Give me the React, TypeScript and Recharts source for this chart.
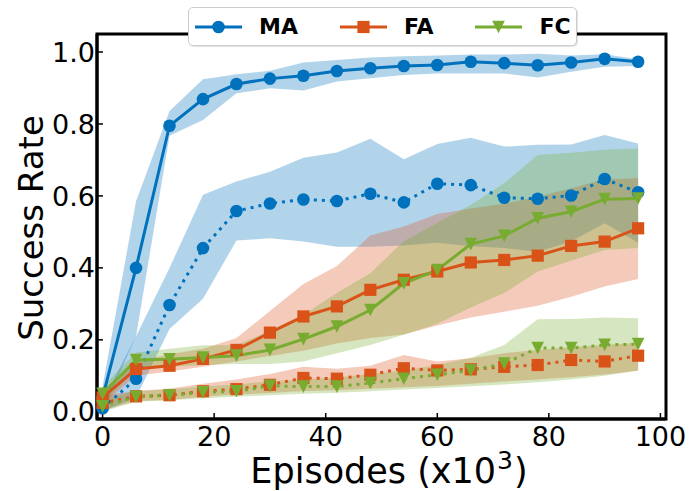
import React from 'react';
import { ComposedChart, Line, Area, XAxis, YAxis, ReferenceArea, Legend } from 'recharts';

// Training progress (x10^3 episodes) and success rates per method
const episodes = [0, 6, 12, 18, 24, 30, 36, 42, 48, 54, 60, 66, 72, 78, 84, 90, 96];

const maSolid = [0.04, 0.4, 0.795, 0.869, 0.911, 0.926, 0.934, 0.947, 0.955, 0.961, 0.964, 0.973, 0.969, 0.963, 0.971, 0.981, 0.973];
const maSolidLo = [0.0, 0.21, 0.767, 0.811, 0.885, 0.899, 0.893, 0.918, 0.927, 0.936, 0.94, 0.94, 0.94, 0.929, 0.945, 0.959, 0.961];
const maSolidHi = [0.07, 0.585, 0.836, 0.924, 0.938, 0.948, 0.971, 0.978, 0.985, 0.988, 0.99, 0.993, 0.993, 0.995, 0.99, 0.994, 0.98];

const maDotted = [0.01, 0.092, 0.297, 0.455, 0.558, 0.579, 0.59, 0.586, 0.606, 0.582, 0.634, 0.63, 0.595, 0.592, 0.601, 0.647, 0.61];
const maDottedLo = [0.0, 0.04, 0.23, 0.314, 0.476, 0.482, 0.473, 0.459, 0.459, 0.462, 0.47, 0.46, 0.455, 0.445, 0.473, 0.524, 0.47];
const maDottedHi = [0.03, 0.21, 0.4, 0.603, 0.64, 0.667, 0.706, 0.721, 0.759, 0.702, 0.744, 0.762, 0.737, 0.742, 0.743, 0.769, 0.746];

const faSolid = [0.04, 0.119, 0.128, 0.147, 0.172, 0.22, 0.265, 0.293, 0.339, 0.367, 0.39, 0.415, 0.422, 0.434, 0.461, 0.473, 0.51];
const faSolidLo = [0.02, 0.1, 0.112, 0.125, 0.14, 0.155, 0.17, 0.19, 0.205, 0.215, 0.24, 0.262, 0.278, 0.295, 0.32, 0.348, 0.369];
const faSolidHi = [0.06, 0.14, 0.16, 0.175, 0.205, 0.28, 0.355, 0.405, 0.49, 0.515, 0.55, 0.565, 0.578, 0.598, 0.621, 0.646, 0.649];

const fcSolid = [0.05, 0.144, 0.146, 0.151, 0.156, 0.172, 0.202, 0.237, 0.283, 0.357, 0.394, 0.466, 0.489, 0.538, 0.556, 0.591, 0.593];
const fcSolidLo = [0.02, 0.12, 0.125, 0.13, 0.133, 0.133, 0.14, 0.163, 0.186, 0.214, 0.245, 0.29, 0.33, 0.39, 0.42, 0.45, 0.455];
const fcSolidHi = [0.07, 0.165, 0.175, 0.185, 0.185, 0.225, 0.27, 0.33, 0.385, 0.475, 0.525, 0.575, 0.635, 0.714, 0.72, 0.728, 0.732];

const faDotted = [0.025, 0.043, 0.046, 0.057, 0.063, 0.075, 0.094, 0.092, 0.103, 0.121, 0.115, 0.118, 0.125, 0.13, 0.144, 0.14, 0.156];
const faDottedLo = [0.005, 0.03, 0.033, 0.042, 0.048, 0.052, 0.058, 0.06, 0.064, 0.068, 0.072, 0.078, 0.084, 0.09, 0.096, 0.104, 0.114];
const faDottedHi = [0.045, 0.058, 0.065, 0.078, 0.09, 0.105, 0.125, 0.12, 0.128, 0.158, 0.14, 0.149, 0.163, 0.172, 0.18, 0.186, 0.192];

const fcDotted = [0.015, 0.042, 0.046, 0.054, 0.057, 0.072, 0.07, 0.07, 0.08, 0.092, 0.103, 0.115, 0.134, 0.177, 0.177, 0.186, 0.188];
const fcDottedLo = [0.0, 0.028, 0.032, 0.038, 0.042, 0.046, 0.05, 0.053, 0.057, 0.062, 0.066, 0.071, 0.076, 0.082, 0.09, 0.1, 0.115];
const fcDottedHi = [0.035, 0.058, 0.062, 0.07, 0.076, 0.085, 0.09, 0.095, 0.105, 0.115, 0.13, 0.15, 0.186, 0.257, 0.258, 0.262, 0.26];

const xTicks = [0, 20, 40, 60, 80, 100];
const yTicks = [0, 0.2, 0.4, 0.6, 0.8, 1.0];

const BLUE = '#0072BD';
const ORANGE = '#D95319';
const GREEN = '#77AC30';
const FONT = '"DejaVu Sans", Verdana, sans-serif';

const legendItems = [
  { name: 'MA', color: BLUE, marker: 'circle' },
  { name: 'FA', color: ORANGE, marker: 'square' },
  { name: 'FC', color: GREEN, marker: 'triangle' },
];

const rows = episodes.map((x, i) => ({
  x,
  maS: maSolid[i],
  maSBand: [maSolidLo[i], maSolidHi[i]],
  maD: maDotted[i],
  maDBand: [maDottedLo[i], maDottedHi[i]],
  faS: faSolid[i],
  faSBand: [faSolidLo[i], faSolidHi[i]],
  faD: faDotted[i],
  faDBand: [faDottedLo[i], faDottedHi[i]],
  fcS: fcSolid[i],
  fcSBand: [fcSolidLo[i], fcSolidHi[i]],
  fcD: fcDotted[i],
  fcDBand: [fcDottedLo[i], fcDottedHi[i]],
}));

const R = 6.3;

function markerShape(kind: string, color: string, cx: number, cy: number, key?: any) {
  if (kind === 'circle') return <circle key={key} cx={cx} cy={cy} r={R} fill={color} />;
  if (kind === 'square')
    return <rect key={key} x={cx - 6.1} y={cy - 6.1} width={12.2} height={12.2} fill={color} />;
  return (
    <path
      key={key}
      d={`M${cx - R},${cy - R} L${cx + R},${cy - R} L${cx},${cy + R} Z`}
      fill={color}
    />
  );
}

const dotFn = (kind: string, color: string) => (props: any) => {
  const { cx, cy, index } = props;
  if (cx == null || cy == null) return <g key={index} />;
  return markerShape(kind, color, cx, cy, index);
};

function LegendBox() {
  return (
    <div
      style={{
        boxSizing: 'border-box',
        width: 389,
        height: 39,
        background: '#fff',
        border: '1.5px solid #cccccc',
        borderRadius: 5,
        boxShadow: '1px 1px 1px rgba(0,0,0,0.12)',
        display: 'flex',
        alignItems: 'center',
        paddingLeft: 6,
        fontFamily: FONT,
        fontWeight: 'bold',
        fontSize: 22,
        color: '#000',
      }}
    >
      {legendItems.map((it) => (
        <div key={it.name} style={{ display: 'flex', alignItems: 'center', marginRight: 42 }}>
          <svg width={47} height={16} style={{ display: 'block' }}>
            <line x1={0} y1={8} x2={47} y2={8} stroke={it.color} strokeWidth={3} />
            {markerShape(it.marker, it.color, 23.5, 8)}
          </svg>
          <span style={{ marginLeft: 17, lineHeight: '22px' }}>{it.name}</span>
        </div>
      ))}
    </div>
  );
}

const tickStyle = { fontSize: 27, fontFamily: FONT, fill: '#000' };

export default function App() {
  return (
    <div style={{ position: 'absolute', left: 0, top: 0, width: 689, height: 491, background: '#fff' }}>
      <ComposedChart
        width={689}
        height={491}
        data={rows}
        margin={{ top: 34, right: 23, bottom: 0, left: 0 }}
      >
        <XAxis
          dataKey="x"
          type="number"
          domain={[-1, 101]}
          ticks={xTicks}
          height={72}
          axisLine={{ stroke: '#000', strokeWidth: 3 }}
          tickLine={{ stroke: '#000', strokeWidth: 1.5 }}
          tickSize={-6}
          tickMargin={14}
          tick={tickStyle}
          interval={0}
          label={{
            content: () => (
              <text x={389} y={483} textAnchor="middle" fontSize={35} fontFamily={FONT} fill="#000">
                <tspan>Episodes (x10</tspan>
                <tspan dx={1} dy={-14} fontSize={25}>3</tspan>
                <tspan dx={1} dy={14}>)</tspan>
              </text>
            ),
          }}
        />
        <YAxis
          type="number"
          domain={[-0.02, 1.05]}
          ticks={yTicks}
          width={97}
          axisLine={{ stroke: '#000', strokeWidth: 3 }}
          tickLine={{ stroke: '#000', strokeWidth: 1.5 }}
          tickSize={-6}
          tickMargin={8}
          tick={tickStyle}
          interval={0}
          tickFormatter={(v: number) => v.toFixed(1)}
          label={{
            content: () => (
              <text
                transform="translate(43, 228) rotate(-90)"
                textAnchor="middle"
                fontSize={34}
                fontFamily={FONT}
                fill="#000"
              >
                Success Rate
              </text>
            ),
          }}
        />

        <Area dataKey="maSBand" type="linear" stroke="none" fill={BLUE} fillOpacity={0.3} isAnimationActive={false} activeDot={false} />
        <Area dataKey="maDBand" type="linear" stroke="none" fill={BLUE} fillOpacity={0.3} isAnimationActive={false} activeDot={false} />
        <Area dataKey="faSBand" type="linear" stroke="none" fill={ORANGE} fillOpacity={0.3} isAnimationActive={false} activeDot={false} />
        <Area dataKey="faDBand" type="linear" stroke="none" fill={ORANGE} fillOpacity={0.3} isAnimationActive={false} activeDot={false} />
        <Area dataKey="fcSBand" type="linear" stroke="none" fill={GREEN} fillOpacity={0.3} isAnimationActive={false} activeDot={false} />
        <Area dataKey="fcDBand" type="linear" stroke="none" fill={GREEN} fillOpacity={0.3} isAnimationActive={false} activeDot={false} />

        <Line dataKey="maS" type="linear" stroke={BLUE} strokeWidth={3} dot={dotFn('circle', BLUE)} activeDot={false} isAnimationActive={false} />
        <Line dataKey="maD" type="linear" stroke={BLUE} strokeWidth={3} strokeDasharray="3 5" dot={dotFn('circle', BLUE)} activeDot={false} isAnimationActive={false} />
        <Line dataKey="faS" type="linear" stroke={ORANGE} strokeWidth={3} dot={dotFn('square', ORANGE)} activeDot={false} isAnimationActive={false} />
        <Line dataKey="faD" type="linear" stroke={ORANGE} strokeWidth={3} strokeDasharray="3 5" dot={dotFn('square', ORANGE)} activeDot={false} isAnimationActive={false} />
        <Line dataKey="fcS" type="linear" stroke={GREEN} strokeWidth={3} dot={dotFn('triangle', GREEN)} activeDot={false} isAnimationActive={false} />
        <Line dataKey="fcD" type="linear" stroke={GREEN} strokeWidth={3} strokeDasharray="3 5" dot={dotFn('triangle', GREEN)} activeDot={false} isAnimationActive={false} />

        <ReferenceArea x1={-1} x2={101} y1={-0.02} y2={1.05} fill="none" stroke="#000" strokeWidth={3} ifOverflow="visible" />

        <Legend
          layout="horizontal"
          verticalAlign="middle"
          align="center"
          wrapperStyle={{ top: 7, left: 188, width: 389, height: 39 }}
          content={() => <LegendBox />}
        />
      </ComposedChart>
    </div>
  );
}
